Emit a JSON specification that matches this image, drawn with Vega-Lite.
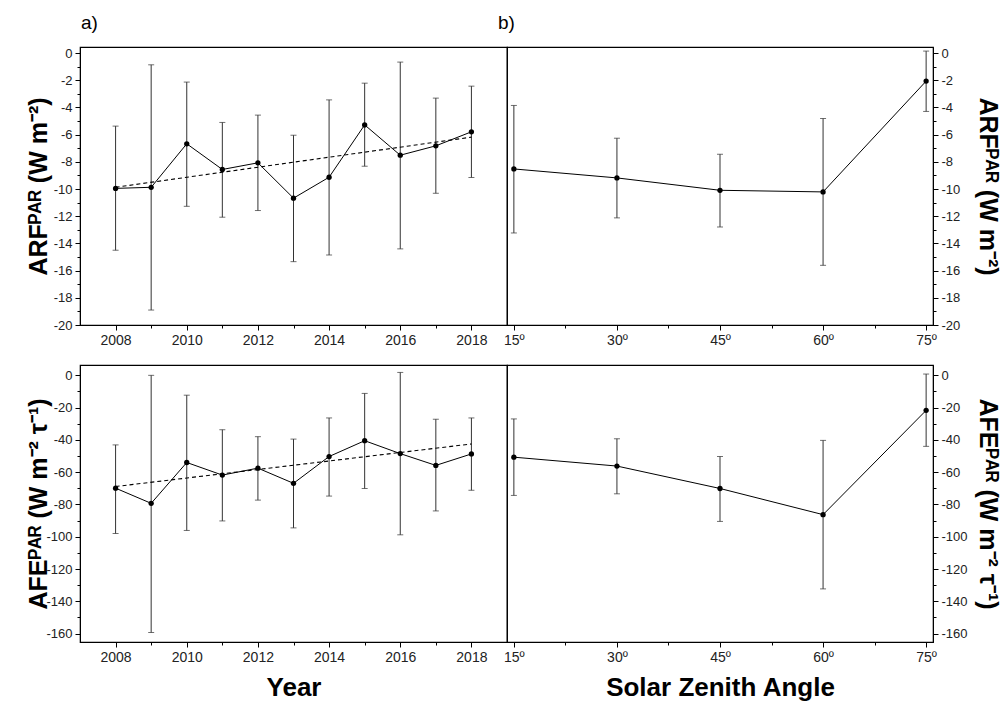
{
  "$schema": "https://vega.github.io/schema/vega-lite/v6.json",
  "padding": {"left": 25, "top": 13, "right": 5, "bottom": 2},
  "background": "white",
  "config": {
    "view": {"stroke": "black", "strokeWidth": 1.2},
    "axis": {"domainColor": "black", "tickColor": "black", "labelColor": "#222", "labelFont": "Liberation Sans", "labelFontSize": 13, "grid": false, "titleFont": "Liberation Sans", "titleFontSize": 25, "titleFontWeight": "bold", "titleColor": "black", "labelPadding": 3, "labelFlush": false, "labelOverlap": false, "labelBound": false, "tickCount": 60},
    "axisX": {"labelFontSize": 14, "titleFontSize": 26, "titlePadding": 10},
    "title": {"font": "Liberation Sans", "fontSize": 19, "fontWeight": "normal", "color": "black", "anchor": "start", "frame": "group"}
  },
  "datasets": {
    "arfYear": [
      {"year": 2008, "value": -9.95, "lo": -14.5, "hi": -5.37},
      {"year": 2009, "value": -9.87, "lo": -18.9, "hi": -0.86},
      {"year": 2010, "value": -6.67, "lo": -11.27, "hi": -2.13},
      {"year": 2011, "value": -8.56, "lo": -12.07, "hi": -5.1},
      {"year": 2012, "value": -8.07, "lo": -11.58, "hi": -4.56},
      {"year": 2013, "value": -10.67, "lo": -15.34, "hi": -6.04},
      {"year": 2014, "value": -9.13, "lo": -14.85, "hi": -3.44},
      {"year": 2015, "value": -5.28, "lo": -8.32, "hi": -2.21},
      {"year": 2016, "value": -7.51, "lo": -14.4, "hi": -0.66},
      {"year": 2017, "value": -6.82, "lo": -10.31, "hi": -3.31},
      {"year": 2018, "value": -5.79, "lo": -9.15, "hi": -2.43}
    ],
    "arfTrend": [
      {"year": 2008, "value": -9.87},
      {"year": 2018, "value": -6.18}
    ],
    "arfSza": [
      {"sza": 15, "value": -8.52, "lo": -13.23, "hi": -3.85},
      {"sza": 30, "value": -9.18, "lo": -12.12, "hi": -6.26},
      {"sza": 45, "value": -10.09, "lo": -12.79, "hi": -7.44},
      {"sza": 60, "value": -10.21, "lo": -15.61, "hi": -4.81},
      {"sza": 75, "value": -2.06, "lo": -4.29, "hi": 0.15}
    ],
    "afeYear": [
      {"year": 2008, "value": -69.9, "lo": -98.0, "hi": -43.1},
      {"year": 2009, "value": -79.3, "lo": -159.3, "hi": 0},
      {"year": 2010, "value": -54.0, "lo": -96.1, "hi": -12.3},
      {"year": 2011, "value": -61.8, "lo": -90.2, "hi": -33.7},
      {"year": 2012, "value": -57.5, "lo": -77.3, "hi": -38.0},
      {"year": 2013, "value": -66.9, "lo": -94.5, "hi": -39.5},
      {"year": 2014, "value": -50.3, "lo": -74.8, "hi": -26.4},
      {"year": 2015, "value": -40.5, "lo": -70.1, "hi": -11.2},
      {"year": 2016, "value": -48.5, "lo": -98.8, "hi": 1.8},
      {"year": 2017, "value": -55.8, "lo": -84.0, "hi": -27.2},
      {"year": 2018, "value": -48.7, "lo": -71.2, "hi": -26.4}
    ],
    "afeTrend": [
      {"year": 2008, "value": -68.9},
      {"year": 2018, "value": -42.5}
    ],
    "afeSza": [
      {"sza": 15, "value": -50.7, "lo": -74.4, "hi": -27.0},
      {"sza": 30, "value": -56.2, "lo": -73.4, "hi": -39.3},
      {"sza": 45, "value": -70.1, "lo": -90.5, "hi": -50.3},
      {"sza": 60, "value": -86.3, "lo": -132.3, "hi": -40.3},
      {"sza": 75, "value": -21.7, "lo": -44.0, "hi": 0.8}
    ]
  },
  "columns": 2,
  "spacing": {"row": 40, "column": 0},
  "bounds": "flush",
  "align": "all",
  "resolve": {"scale": {"x": "independent", "y": "independent"}},
  "concat": [
    {
      "width": 427, "height": 278,
      "title": {"text": "a)", "dx": 1, "offset": 14},
      "layer": [
        {
          "data": {"name": "arfYear"},
          "mark": {"type": "errorbar", "ticks": true, "size": 6, "thickness": 1, "color": "#333"},
          "encoding": {
            "x": {"field": "year", "type": "quantitative", "scale": {"domain": [2007, 2019], "nice": false, "zero": false},
              "axis": {"title": null, "tickCount": 60, "labelOverlap": false, "values": [2008, 2009, 2010, 2011, 2012, 2013, 2014, 2015, 2016, 2017, 2018], "labelExpr": "datum.value % 2 == 0 ? '' + datum.value : ''", "tickSize": {"condition": {"test": "datum.value % 2 == 0", "value": 5}, "value": 3}}},
            "y": {"field": "lo", "type": "quantitative", "scale": {"domain": [-20, 0.45], "nice": false, "zero": false},
              "axis": {"title": "ARFᴾᴬᴿ (W m⁻²)", "tickCount": 60, "labelOverlap": false, "titleX": -42, "titleBaseline": "middle", "values": [0, -1, -2, -3, -4, -5, -6, -7, -8, -9, -10, -11, -12, -13, -14, -15, -16, -17, -18, -19, -20], "labelExpr": "datum.value % 2 == 0 ? '' + datum.value : ''", "tickSize": {"condition": {"test": "datum.value % 2 == 0", "value": 5}, "value": 3}}},
            "y2": {"field": "hi"}
          }
        },
        {
          "data": {"name": "arfYear"},
          "mark": {"type": "line", "color": "black", "strokeWidth": 1},
          "encoding": {"x": {"field": "year", "type": "quantitative"}, "y": {"field": "value", "type": "quantitative"}}
        },
        {
          "data": {"name": "arfTrend"},
          "mark": {"type": "line", "color": "black", "strokeWidth": 1.1, "strokeDash": [4, 3]},
          "encoding": {"x": {"field": "year", "type": "quantitative"}, "y": {"field": "value", "type": "quantitative"}}
        },
        {
          "data": {"name": "arfYear"},
          "mark": {"type": "point", "filled": true, "color": "black", "size": 28, "opacity": 1},
          "encoding": {"x": {"field": "year", "type": "quantitative"}, "y": {"field": "value", "type": "quantitative"}}
        }
      ]
    },
    {
      "width": 426, "height": 278,
      "title": {"text": "b)", "dx": -9, "offset": 14},
      "layer": [
        {
          "data": {"name": "arfSza"},
          "mark": {"type": "errorbar", "ticks": true, "size": 6, "thickness": 1, "color": "#333"},
          "encoding": {
            "x": {"field": "sza", "type": "quantitative", "scale": {"domain": [14, 76], "nice": false, "zero": false},
              "axis": {"title": null, "tickCount": 60, "labelOverlap": false, "values": [15, 22.5, 30, 37.5, 45, 52.5, 60, 67.5, 75], "labelExpr": "datum.value % 15 == 0 ? datum.value + 'º' : ''", "tickSize": {"condition": {"test": "datum.value % 15 == 0", "value": 5}, "value": 3}}},
            "y": {"field": "lo", "type": "quantitative", "scale": {"domain": [-20, 0.45], "nice": false, "zero": false},
              "axis": {"orient": "right", "tickCount": 60, "labelOverlap": false, "title": "ARFᴾᴬᴿ (W m⁻²)", "titleX": 54, "titleBaseline": "middle", "values": [0, -1, -2, -3, -4, -5, -6, -7, -8, -9, -10, -11, -12, -13, -14, -15, -16, -17, -18, -19, -20], "labelExpr": "datum.value % 2 == 0 ? '' + datum.value : ''", "tickSize": {"condition": {"test": "datum.value % 2 == 0", "value": 5}, "value": 3}}},
            "y2": {"field": "hi"}
          }
        },
        {
          "data": {"name": "arfSza"},
          "mark": {"type": "line", "color": "black", "strokeWidth": 1},
          "encoding": {"x": {"field": "sza", "type": "quantitative"}, "y": {"field": "value", "type": "quantitative"}}
        },
        {
          "data": {"name": "arfSza"},
          "mark": {"type": "point", "filled": true, "color": "black", "size": 28, "opacity": 1},
          "encoding": {"x": {"field": "sza", "type": "quantitative"}, "y": {"field": "value", "type": "quantitative"}}
        }
      ]
    },
    {
      "width": 427, "height": 277,
      "layer": [
        {
          "data": {"name": "afeYear"},
          "mark": {"type": "errorbar", "ticks": true, "size": 6, "thickness": 1, "color": "#333"},
          "encoding": {
            "x": {"field": "year", "type": "quantitative", "scale": {"domain": [2007, 2019], "nice": false, "zero": false},
              "axis": {"title": "Year", "tickCount": 60, "labelOverlap": false, "values": [2008, 2009, 2010, 2011, 2012, 2013, 2014, 2015, 2016, 2017, 2018], "labelExpr": "datum.value % 2 == 0 ? '' + datum.value : ''", "tickSize": {"condition": {"test": "datum.value % 2 == 0", "value": 5}, "value": 3}}},
            "y": {"field": "lo", "type": "quantitative", "scale": {"domain": [-165.2, 6.4], "nice": false, "zero": false},
              "axis": {"title": "AFEᴾᴬᴿ (W m⁻² τ⁻¹)", "tickCount": 60, "labelOverlap": false, "titleX": -42, "titleBaseline": "middle", "values": [0, -10, -20, -30, -40, -50, -60, -70, -80, -90, -100, -110, -120, -130, -140, -150, -160], "labelExpr": "datum.value % 20 == 0 ? '' + datum.value : ''", "tickSize": {"condition": {"test": "datum.value % 20 == 0", "value": 5}, "value": 3}}},
            "y2": {"field": "hi"}
          }
        },
        {
          "data": {"name": "afeYear"},
          "mark": {"type": "line", "color": "black", "strokeWidth": 1},
          "encoding": {"x": {"field": "year", "type": "quantitative"}, "y": {"field": "value", "type": "quantitative"}}
        },
        {
          "data": {"name": "afeTrend"},
          "mark": {"type": "line", "color": "black", "strokeWidth": 1.1, "strokeDash": [4, 3]},
          "encoding": {"x": {"field": "year", "type": "quantitative"}, "y": {"field": "value", "type": "quantitative"}}
        },
        {
          "data": {"name": "afeYear"},
          "mark": {"type": "point", "filled": true, "color": "black", "size": 28, "opacity": 1},
          "encoding": {"x": {"field": "year", "type": "quantitative"}, "y": {"field": "value", "type": "quantitative"}}
        }
      ]
    },
    {
      "width": 426, "height": 277,
      "layer": [
        {
          "data": {"name": "afeSza"},
          "mark": {"type": "errorbar", "ticks": true, "size": 6, "thickness": 1, "color": "#333"},
          "encoding": {
            "x": {"field": "sza", "type": "quantitative", "scale": {"domain": [14, 76], "nice": false, "zero": false},
              "axis": {"title": "Solar Zenith Angle", "tickCount": 60, "labelOverlap": false, "values": [15, 22.5, 30, 37.5, 45, 52.5, 60, 67.5, 75], "labelExpr": "datum.value % 15 == 0 ? datum.value + 'º' : ''", "tickSize": {"condition": {"test": "datum.value % 15 == 0", "value": 5}, "value": 3}}},
            "y": {"field": "lo", "type": "quantitative", "scale": {"domain": [-165.2, 6.4], "nice": false, "zero": false},
              "axis": {"orient": "right", "tickCount": 60, "labelOverlap": false, "title": "AFEᴾᴬᴿ (W m⁻² τ⁻¹)", "titleX": 54, "titleBaseline": "middle", "values": [0, -10, -20, -30, -40, -50, -60, -70, -80, -90, -100, -110, -120, -130, -140, -150, -160], "labelExpr": "datum.value % 20 == 0 ? '' + datum.value : ''", "tickSize": {"condition": {"test": "datum.value % 20 == 0", "value": 5}, "value": 3}}},
            "y2": {"field": "hi"}
          }
        },
        {
          "data": {"name": "afeSza"},
          "mark": {"type": "line", "color": "black", "strokeWidth": 1},
          "encoding": {"x": {"field": "sza", "type": "quantitative"}, "y": {"field": "value", "type": "quantitative"}}
        },
        {
          "data": {"name": "afeSza"},
          "mark": {"type": "point", "filled": true, "color": "black", "size": 28, "opacity": 1},
          "encoding": {"x": {"field": "sza", "type": "quantitative"}, "y": {"field": "value", "type": "quantitative"}}
        }
      ]
    }
  ]
}
